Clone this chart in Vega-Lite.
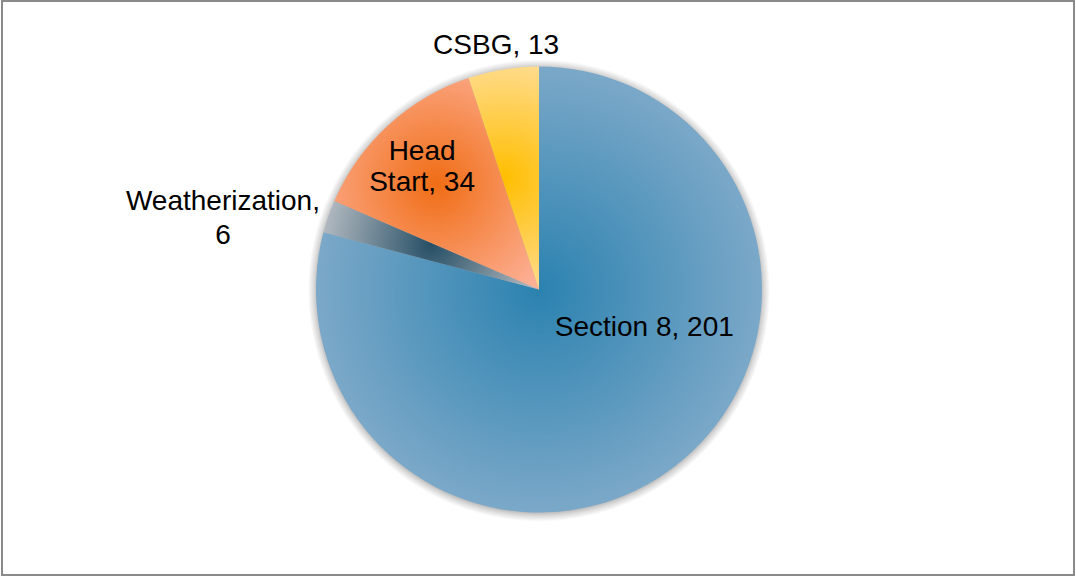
{
  "$schema": "https://vega.github.io/schema/vega-lite/v6.json",
  "autosize": "none",
  "width": 1072,
  "height": 574,
  "padding": {"left": 2, "top": 1, "right": 2, "bottom": 2},
  "background": "#ffffff",
  "view": {"stroke": "#8a8a8a", "strokeWidth": 2},
  "data": {
    "values": [
      {"idx": 1, "cat": "Section 8", "value": 201, "label": "Section 8, 201"},
      {"idx": 2, "cat": "Weatherization", "value": 6, "label": "Weatherization,\n6"},
      {"idx": 3, "cat": "Head Start", "value": 34, "label": "Head\nStart, 34"},
      {"idx": 4, "cat": "CSBG", "value": 13, "label": "CSBG, 13"}
    ]
  },
  "layer": [
    {
      "transform": [{"aggregate": [{"op": "sum", "field": "value", "as": "total"}]}],
      "mark": {
        "type": "arc",
        "radius": 231,
        "x": {"expr": "width/2+1"},
        "y": {"expr": "height/2+2.5"},
        "fill": {
          "gradient": "radial",
          "x1": 0.5, "y1": 0.5, "r1": 0,
          "x2": 0.5, "y2": 0.5, "r2": 0.5,
          "stops": [
            {"offset": 0.95, "color": "rgba(0,0,0,0.35)"},
            {"offset": 0.975, "color": "rgba(0,0,0,0.15)"},
            {"offset": 1, "color": "rgba(0,0,0,0)"}
          ]
        }
      },
      "encoding": {
        "theta": {"field": "total", "type": "quantitative", "stack": true}
      }
    },
    {
      "mark": {
        "type": "arc",
        "radius": 223,
        "x": {"expr": "width/2+1"},
        "y": {"expr": "height/2+1.5"}
      },
      "encoding": {
        "theta": {"field": "value", "type": "quantitative", "stack": true},
        "order": {"field": "idx", "type": "quantitative"},
        "fill": {
          "condition": [
            {"test": "datum.cat === 'Section 8'", "value": {"gradient": "radial", "x1": 0.5, "y1": 0.5, "r1": 0, "x2": 0.5, "y2": 0.5, "r2": 0.5, "stops": [{"offset": 0, "color": "#2b82b0"}, {"offset": 1, "color": "#7ba8c8"}]}},
            {"test": "datum.cat === 'Weatherization'", "value": {"gradient": "radial", "x1": 0.5, "y1": 0.5, "r1": 0, "x2": 0.5, "y2": 0.5, "r2": 0.5, "stops": [{"offset": 0, "color": "#264f66"}, {"offset": 1, "color": "#b0b8bf"}]}},
            {"test": "datum.cat === 'Head Start'", "value": {"gradient": "radial", "x1": 0.5, "y1": 0.5, "r1": 0, "x2": 0.5, "y2": 0.5, "r2": 0.65, "stops": [{"offset": 0, "color": "#f06d15"}, {"offset": 1, "color": "#fdb096"}]}},
            {"test": "datum.cat === 'CSBG'", "value": {"gradient": "radial", "x1": 0.5, "y1": 0.5, "r1": 0, "x2": 0.5, "y2": 0.5, "r2": 0.55, "stops": [{"offset": 0, "color": "#ffbe00"}, {"offset": 1, "color": "#ffdd95"}]}}
          ],
          "value": "#888888"
        }
      }
    },
    {
      "mark": {"type": "text", "radius": 249, "dx": -3, "dy": 2, "x": {"expr": "width/2+1"}, "y": {"expr": "height/2+1.5"}, "font": "Liberation Sans", "fontSize": 28, "lineBreak": "\n", "lineHeight": 33, "align": "center", "baseline": "middle", "color": "#000000"},
      "encoding": {
        "theta": {"field": "value", "type": "quantitative", "stack": true},
        "order": {"field": "idx", "type": "quantitative"},
        "text": {"field": "label"},
        "opacity": {"condition": {"test": "datum.cat === 'CSBG'", "value": 1}, "value": 0}
      }
    },
    {
      "mark": {"type": "text", "radius": 170, "dx": -2, "dy": -12, "x": {"expr": "width/2+1"}, "y": {"expr": "height/2+1.5"}, "font": "Liberation Sans", "fontSize": 28, "lineBreak": "\n", "lineHeight": 31, "align": "center", "baseline": "middle", "color": "#000000"},
      "encoding": {
        "theta": {"field": "value", "type": "quantitative", "stack": true},
        "order": {"field": "idx", "type": "quantitative"},
        "text": {"field": "label"},
        "opacity": {"condition": {"test": "datum.cat === 'Head Start'", "value": 1}, "value": 0}
      }
    },
    {
      "mark": {"type": "text", "radius": 325, "dx": -9, "dy": 19, "x": {"expr": "width/2+1"}, "y": {"expr": "height/2+1.5"}, "font": "Liberation Sans", "fontSize": 28, "lineBreak": "\n", "lineHeight": 34, "align": "center", "baseline": "middle", "color": "#000000"},
      "encoding": {
        "theta": {"field": "value", "type": "quantitative", "stack": true},
        "order": {"field": "idx", "type": "quantitative"},
        "text": {"field": "label"},
        "opacity": {"condition": {"test": "datum.cat === 'Weatherization'", "value": 1}, "value": 0}
      }
    },
    {
      "mark": {"type": "text", "radius": 112, "dx": 37, "dy": -50, "x": {"expr": "width/2+1"}, "y": {"expr": "height/2+1.5"}, "font": "Liberation Sans", "fontSize": 28, "lineBreak": "\n", "lineHeight": 33, "align": "center", "baseline": "middle", "color": "#000000"},
      "encoding": {
        "theta": {"field": "value", "type": "quantitative", "stack": true},
        "order": {"field": "idx", "type": "quantitative"},
        "text": {"field": "label"},
        "opacity": {"condition": {"test": "datum.cat === 'Section 8'", "value": 1}, "value": 0}
      }
    }
  ]
}
